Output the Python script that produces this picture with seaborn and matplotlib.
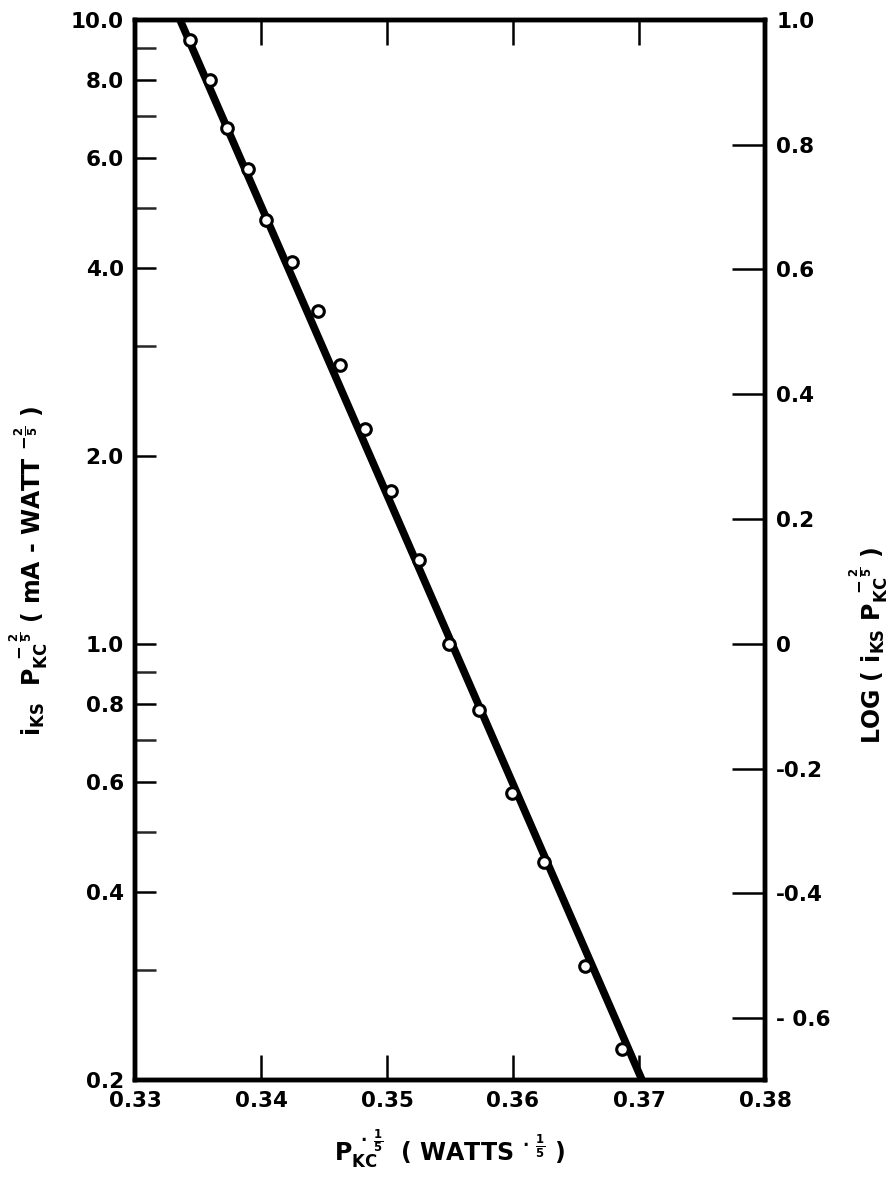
import numpy as np
import pandas as pd
import matplotlib
matplotlib.use("Agg")
import matplotlib.pyplot as plt
import seaborn as sns
from matplotlib.ticker import FixedLocator, NullFormatter, FixedFormatter

sns.set_theme(style="white")
plt.rcParams['font.family'] = ['DejaVu Sans']
plt.rcParams['font.weight'] = 'bold'
plt.rcParams['mathtext.fontset'] = 'dejavusans'
plt.rcParams['mathtext.default'] = 'bf'
plt.rcParams['axes.labelcolor'] = 'black'
plt.rcParams['text.color'] = 'black'

# data
x_pts = [0.33437, 0.33595, 0.3373, 0.33897, 0.3404, 0.34246, 0.34452, 0.34627,
         0.34825, 0.35032, 0.35254, 0.35492, 0.3573, 0.35992, 0.36246, 0.36571, 0.36865]
y_pts = [9.29, 8.01, 6.71, 5.77, 4.78, 4.09, 3.42, 2.80,
         2.21, 1.76, 1.36, 1.00, 0.784, 0.577, 0.447, 0.305, 0.224]
fit_x = [0.33357, 0.37024]
fit_y = [10.0, 0.2]

x_ticks = [0.33, 0.34, 0.35, 0.36, 0.37, 0.38]
x_labels = ["0.33", "0.34", "0.35", "0.36", "0.37", "0.38"]
y_major = [0.2, 0.4, 0.6, 0.8, 1.0, 2.0, 4.0, 6.0, 8.0, 10.0]
y_major_labels = ["0.2", "0.4", "0.6", "0.8", "1.0", "2.0", "4.0", "6.0", "8.0", "10.0"]
y_minor = [0.3, 0.5, 0.7, 0.9, 3.0, 5.0, 7.0, 9.0]
r_ticks = [-0.6, -0.4, -0.2, 0.0, 0.2, 0.4, 0.6, 0.8, 1.0]
r_labels = ["- 0.6", "-0.4", "-0.2", "0", "0.2", "0.4", "0.6", "0.8", "1.0"]

pts = pd.DataFrame({"x": x_pts, "y": y_pts})
fit = pd.DataFrame({"x": fit_x, "y": fit_y})

fig = plt.figure(figsize=(8.88, 11.98), dpi=100)
ax = fig.add_axes([0.152, 0.0985, 0.7095, 0.885])
ax.set_yscale("log")

sns.lineplot(data=fit, x="x", y="y", ax=ax, color="black", linewidth=5.5, sort=False, zorder=2)
sns.scatterplot(data=pts, x="x", y="y", ax=ax, marker="o", s=70, facecolor="white",
                edgecolor="black", linewidth=2.2, zorder=3)

ax.set_xlim(0.33, 0.38)
ax.set_ylim(0.2, 10.0)

for s in ax.spines.values():
    s.set_linewidth(3.2)
    s.set_color("black")

ax.xaxis.set_major_locator(FixedLocator(x_ticks))
ax.xaxis.set_major_formatter(FixedFormatter(x_labels))
ax.yaxis.set_major_locator(FixedLocator(y_major))
ax.yaxis.set_major_formatter(FixedFormatter(y_major_labels))
ax.yaxis.set_minor_locator(FixedLocator(y_minor))
ax.yaxis.set_minor_formatter(NullFormatter())

ax.tick_params(axis="x", which="major", direction="in", length=18, width=1.8,
               top=True, bottom=True, labelsize=15.5, pad=8, colors="black")
ax.tick_params(axis="y", which="major", direction="in", length=15, width=1.8,
               left=True, right=False, labelsize=15.5, pad=8, colors="black")
ax.tick_params(axis="y", which="minor", direction="in", length=15, width=1.8,
               left=True, right=False)

ax.set_xlabel(r"$\mathbf{P_{KC}^{\ \cdot\,\frac{1}{5}}}$  ( WATTS$^{\ \cdot\,\frac{1}{5}}$ )",
              fontsize=17, fontweight="bold")
ax.xaxis.set_label_coords(0.5, -0.045)
ax.set_ylabel(r"$\mathbf{i_{KS}\ \ P_{KC}^{\ -\frac{2}{5}}}$ ( mA - WATT $^{-\frac{2}{5}}$ )",
              fontsize=17, fontweight="bold")
ax.yaxis.set_label_coords(-0.135, 0.48)

ax2 = ax.twinx()
ax2.set_ylim(np.log10(0.2), 1.0)
ax2.yaxis.set_major_locator(FixedLocator(r_ticks))
ax2.yaxis.set_major_formatter(FixedFormatter(r_labels))
ax2.tick_params(axis="y", which="major", direction="in", length=24, width=1.8,
                labelsize=15.5, pad=8, colors="black")
for s in ax2.spines.values():
    s.set_linewidth(3.2)
    s.set_color("black")
ax2.set_ylabel(r"LOG ( $\mathbf{i_{KS}\ P_{KC}^{\ -\frac{2}{5}}}$ )",
               fontsize=17, fontweight="bold")
ax2.yaxis.set_label_coords(1.13, 0.41)
ax2.grid(False)
ax.grid(False)

fig.savefig("out.png", dpi=100)
